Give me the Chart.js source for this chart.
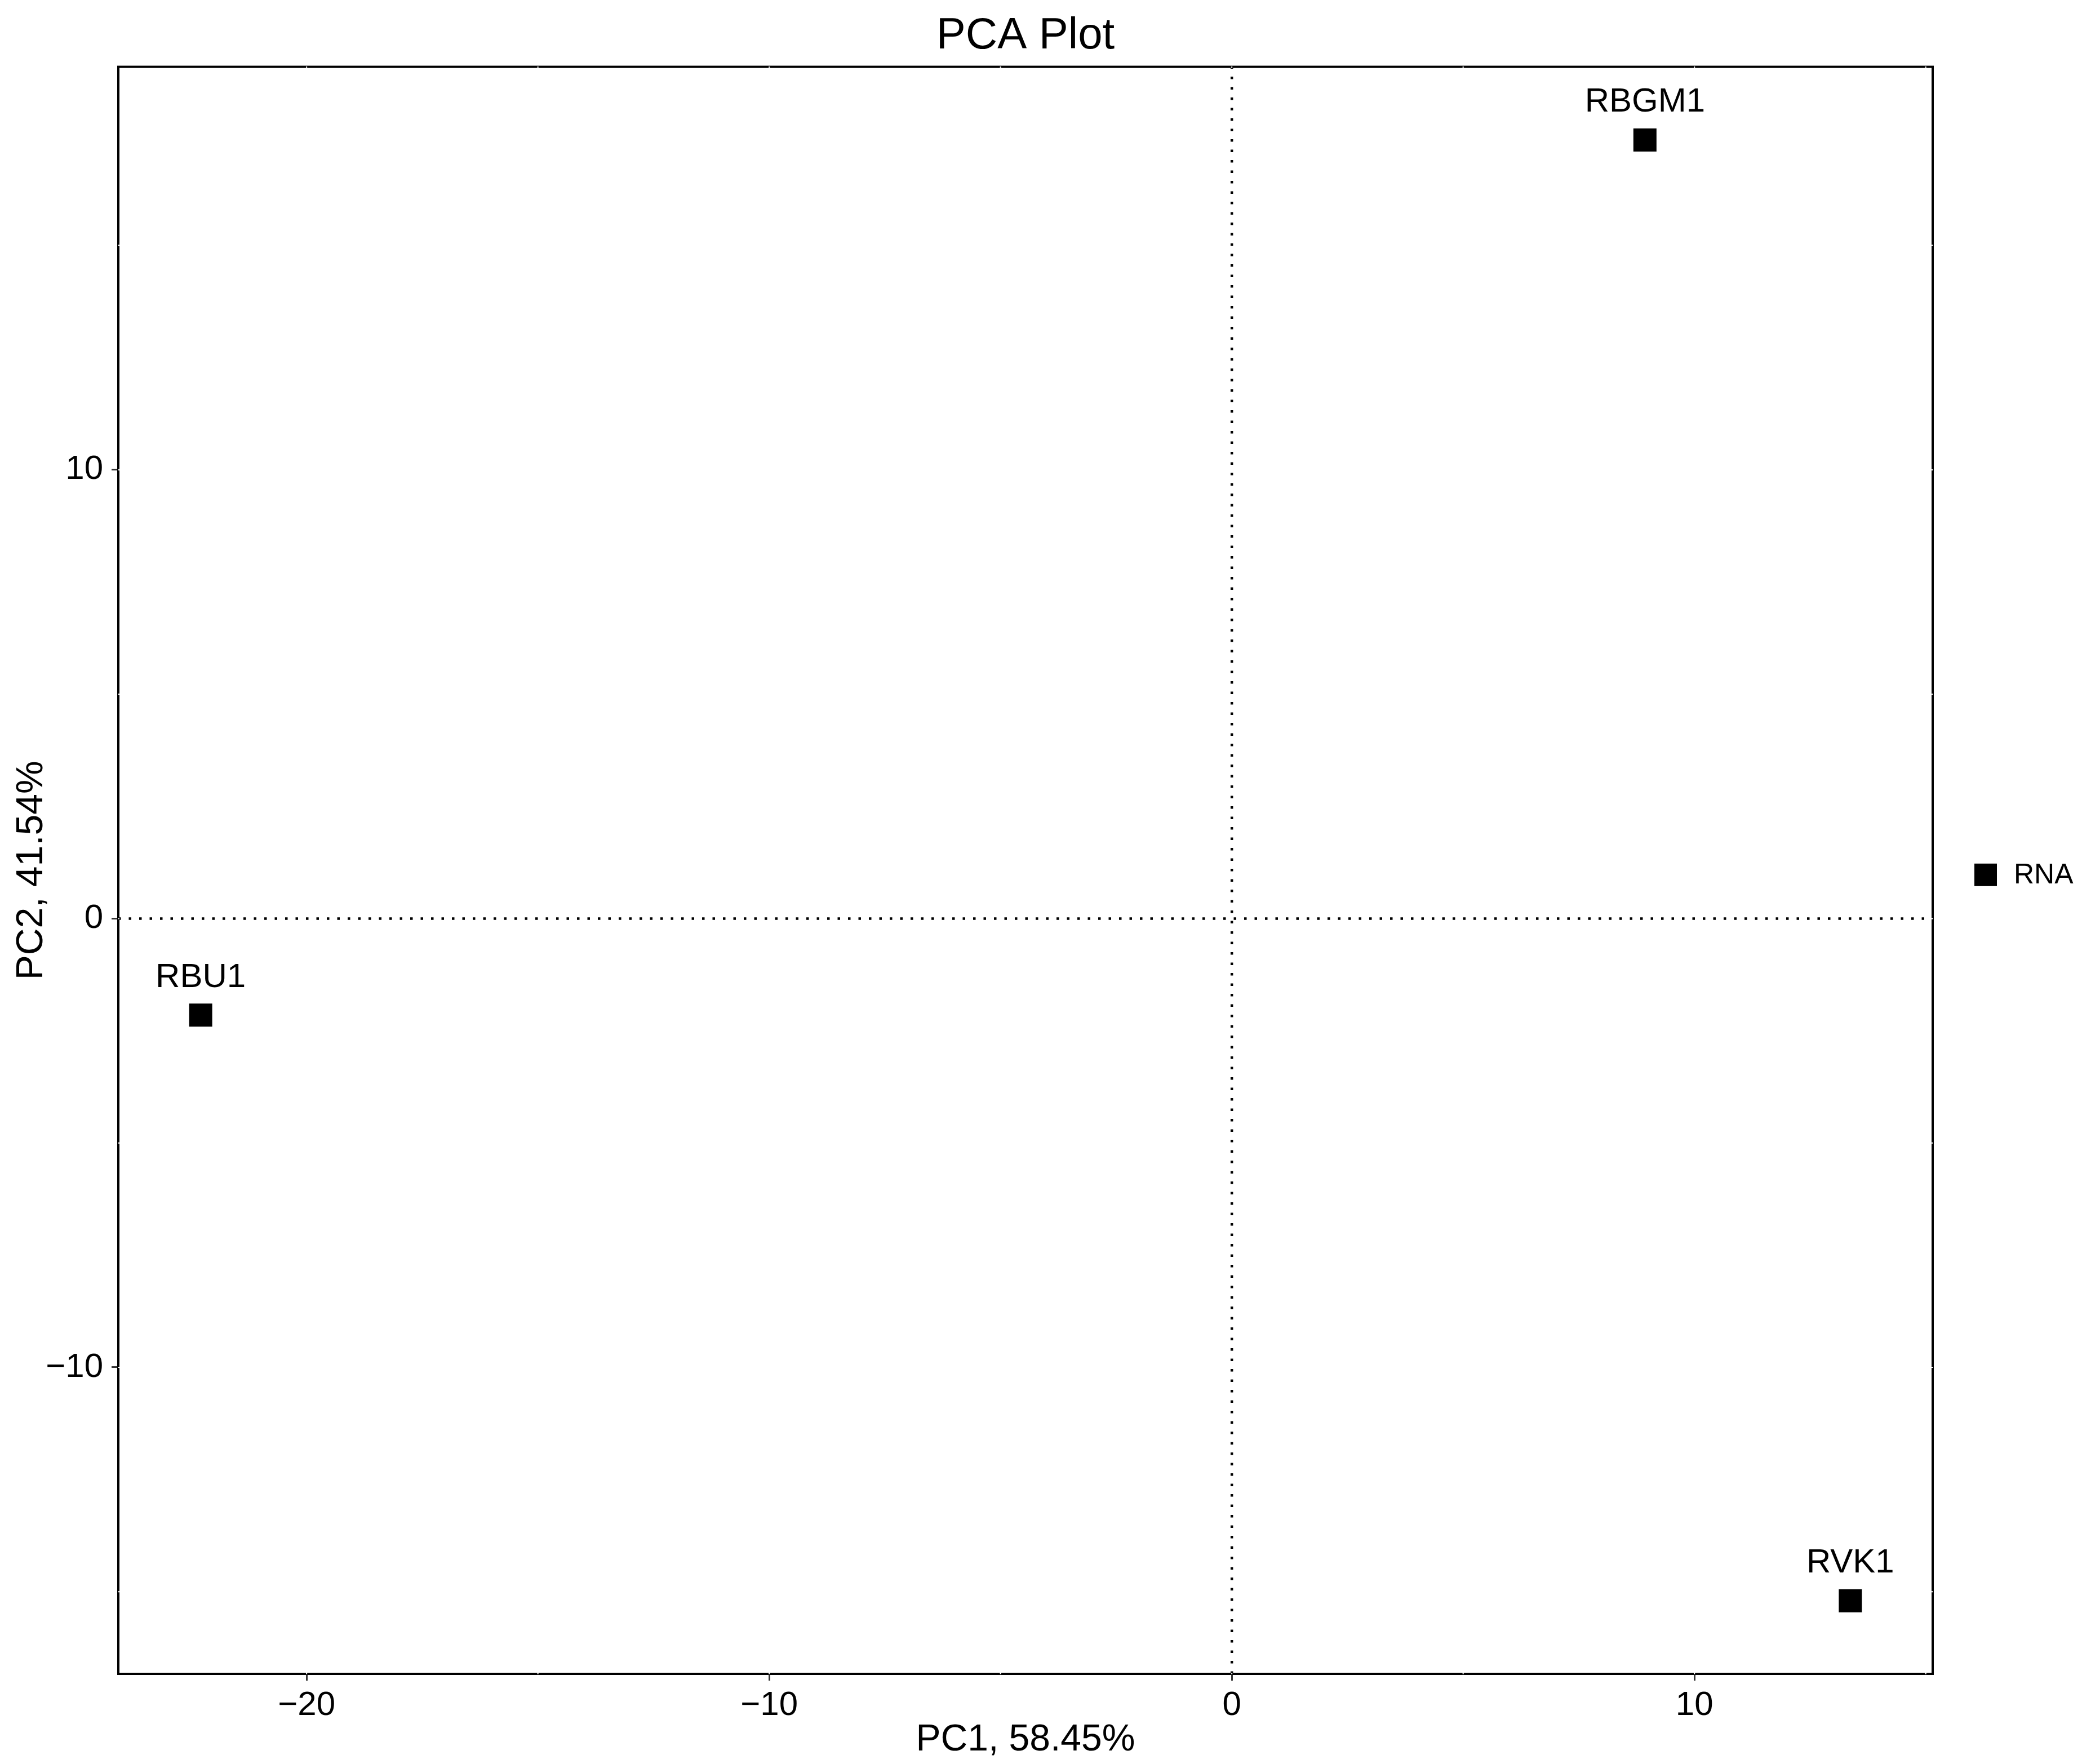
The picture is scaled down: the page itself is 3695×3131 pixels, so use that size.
<!DOCTYPE html>
<html>
<head>
<meta charset="utf-8">
<title>PCA Plot</title>
<script src="https://cdn.jsdelivr.net/npm/chart.js@4.4.0/dist/chart.umd.min.js"></script>
<style>
    html, body { margin: 0; padding: 0; background: #ffffff; }
    #wrap { width: 3695px; height: 3131px; }
</style>
</head>
<body>
<div id="wrap"><canvas id="pcaChart"></canvas></div>
<script>
// datos
const sampleNames = ["RBU1", "RBGM1", "RVK1"];
const pc1Values = [-22.29, 8.93, 13.37];
const pc2Values = [-2.15, 17.35, -15.2];
const groupName = "RNA";

// ejes
const xTicks = [-20, -10, 0, 10];
const yTicks = [-10, 0, 10];
const xMinor = [-15, -5, 5, 15];
const yMinor = [-15, -5, 5, 15];
const xLimits = [-24.07, 15.15];
const yLimits = [-16.83, 18.98];

const FONT = "'Liberation Sans', Arial, Helvetica, sans-serif";

const puntos = pc1Values.map((x, i) => ({ x, y: pc2Values[i] }));

// lineas punteadas en cero + marco del panel + etiquetas + leyenda
const pcaExtras = {
    id: "pcaExtras",
    afterLayout(chart) {
        // centrar el titulo sobre el panel, como en ggplot
        const t = chart.titleBlock;
        if (t) {
            t.left = chart.chartArea.left;
            t.right = chart.chartArea.right;
            t.width = t.right - t.left;
        }
    },
    beforeDatasetsDraw(chart) {
        const { ctx, chartArea: a, scales: { x, y } } = chart;
        const x0 = x.getPixelForValue(0);
        const y0 = y.getPixelForValue(0);
        ctx.save();
        ctx.strokeStyle = "#000";
        ctx.lineWidth = 4.5;
        ctx.setLineDash([4.5, 14]);
        ctx.beginPath();
        ctx.moveTo(a.left, y0);
        ctx.lineTo(a.right, y0);
        ctx.moveTo(x0, a.bottom);
        ctx.lineTo(x0, a.top);
        ctx.stroke();
        ctx.restore();
    },
    afterDatasetsDraw(chart) {
        const { ctx, chartArea: a, scales: { x, y } } = chart;
        const meta = chart.getDatasetMeta(0);

        // etiquetas de muestras
        ctx.save();
        ctx.fillStyle = "#000";
        ctx.font = "60px " + FONT;
        ctx.textAlign = "center";
        ctx.textBaseline = "alphabetic";
        meta.data.forEach((pt, i) => {
            ctx.fillText(sampleNames[i], pt.x, pt.y - 50);
        });
        ctx.restore();

        // marco
        ctx.save();
        ctx.strokeStyle = "#000";
        ctx.lineWidth = 4;
        ctx.strokeRect(a.left, a.top, a.right - a.left, a.bottom - a.top);

        // muescas blancas de la rejilla sobre el borde
        ctx.strokeStyle = "#ffffff";
        ctx.lineWidth = 2;
        for (const v of xTicks.concat(xMinor)) {
            const px = x.getPixelForValue(v);
            if (px <= a.left + 3 || px >= a.right - 3) continue;
            ctx.beginPath();
            ctx.moveTo(px, a.top - 0.5);
            ctx.lineTo(px, a.top + 2);
            ctx.moveTo(px, a.bottom + 0.5);
            ctx.lineTo(px, a.bottom - 2);
            ctx.stroke();
        }
        for (const v of yTicks.concat(yMinor)) {
            const py = y.getPixelForValue(v);
            if (py <= a.top + 3 || py >= a.bottom - 3) continue;
            ctx.beginPath();
            ctx.moveTo(a.left - 0.5, py);
            ctx.lineTo(a.left + 2, py);
            ctx.moveTo(a.right + 0.5, py);
            ctx.lineTo(a.right - 2, py);
            ctx.stroke();
        }
        ctx.restore();

        // leyenda
        const cy = (a.top + a.bottom) / 2 + 8;
        const sx = a.right + 74;
        ctx.save();
        ctx.fillStyle = "#000";
        ctx.fillRect(sx, cy - 20, 40, 40);
        ctx.font = "50px " + FONT;
        ctx.textAlign = "left";
        ctx.textBaseline = "middle";
        ctx.fillText(chart.data.datasets[0].label, sx + 70, cy + 1);
        ctx.restore();
    }
};

function crearGrafico() {
    const ctx = document.getElementById("pcaChart");

    new Chart(ctx, {
        type: "scatter",
        data: {
            datasets: [
                {
                    label: groupName,
                    data: puntos,
                    pointStyle: "rect",
                    pointRadius: 29,
                    pointHoverRadius: 29,
                    backgroundColor: "#000",
                    borderColor: "#000",
                    borderWidth: 0,
                },
            ],
        },
        options: {
            responsive: true,
            maintainAspectRatio: false,
            animation: false,
            events: [],
            layout: {
                padding: { left: 0, right: 265, top: 0, bottom: 0 },
            },
            plugins: {
                legend: { display: false },
                tooltip: { enabled: false },
                title: {
                    display: true,
                    text: "PCA Plot",
                    color: "#000",
                    font: { family: FONT, size: 78, weight: "normal", lineHeight: 1.2 },
                    padding: { top: 18, bottom: 7 },
                },
            },
            scales: {
                x: {
                    type: "linear",
                    min: xLimits[0],
                    max: xLimits[1],
                    afterBuildTicks: (s) => {
                        s.ticks = xTicks.map((v) => ({ value: v }));
                    },
                    afterFit: (s) => {
                        s.height = 160;
                    },
                    border: { display: false },
                    grid: {
                        drawOnChartArea: false,
                        drawTicks: true,
                        tickLength: 12,
                        tickWidth: 3,
                        tickColor: "#333333",
                    },
                    ticks: {
                        color: "#000",
                        padding: 8,
                        font: { family: FONT, size: 60 },
                        callback: (v) => String(v).replace("-", "\u2212"),
                    },
                    title: {
                        display: true,
                        text: "PC1, 58.45%",
                        color: "#000",
                        font: { family: FONT, size: 66, lineHeight: 1.2 },
                        padding: { top: 0, bottom: 3 },
                    },
                },
                y: {
                    type: "linear",
                    min: yLimits[0],
                    max: yLimits[1],
                    afterBuildTicks: (s) => {
                        s.ticks = yTicks.map((v) => ({ value: v }));
                    },
                    afterFit: (s) => {
                        s.width = 210;
                    },
                    border: { display: false },
                    grid: {
                        drawOnChartArea: false,
                        drawTicks: true,
                        tickLength: 12,
                        tickWidth: 3,
                        tickColor: "#333333",
                    },
                    ticks: {
                        color: "#000",
                        padding: 15,
                        font: { family: FONT, size: 60 },
                        callback: (v) => String(v).replace("-", "\u2212"),
                    },
                    title: {
                        display: true,
                        text: "PC2, 41.54%",
                        color: "#000",
                        font: { family: FONT, size: 66, lineHeight: 1.2 },
                        padding: { top: 17, bottom: 0 },
                    },
                },
            },
        },
        plugins: [pcaExtras],
    });
}

document.addEventListener("DOMContentLoaded", crearGrafico);
</script>
</body>
</html>
